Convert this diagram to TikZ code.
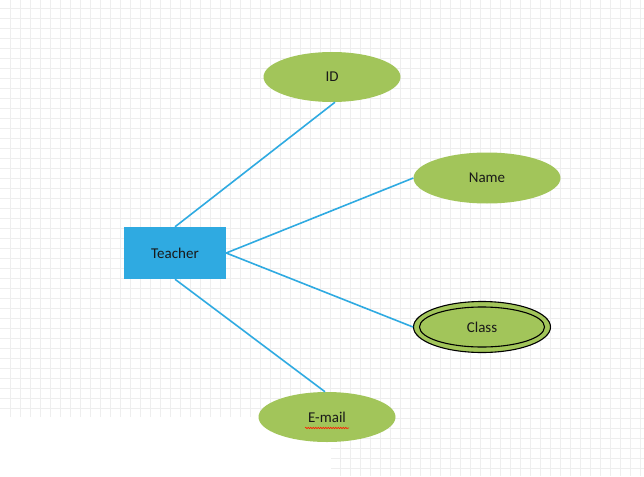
\documentclass[tikz,border=0pt]{standalone}
\usepackage{fontspec}
\setmainfont{Carlito}
\usetikzlibrary{shapes.geometric,decorations.pathmorphing}

\definecolor{entblue}{RGB}{47,170,225}
\definecolor{attrgreen}{RGB}{162,197,90}
\definecolor{gridgray}{RGB}{238,238,238}

\tikzset{
	entity/.style={rectangle, fill=entblue, minimum width=102pt, minimum height=52pt, inner sep=0pt, text=black!90, font=\fontsize{15}{17}\selectfont},
	attr/.style={ellipse, fill=attrgreen, minimum width=137pt, minimum height=50pt, inner sep=0pt, text=black!90, font=\fontsize{15}{17}\selectfont},
	link/.style={entblue, line width=1.6pt},
}

\begin{document}
\begin{tikzpicture}[x=1pt,y=-1pt]
		\useasboundingbox (0,0) rectangle (644,476);
		\fill[white] (0,0) rectangle (644,476);
		
		% grid
		\foreach \x in {10,20,...,640}
			\draw[gridgray, line width=0.6pt] (\x,0) -- (\x,476);
		\foreach \y in {8,18,...,468}
			\draw[gridgray, line width=0.6pt] (0,\y) -- (644,\y);
		\fill[white] (0,417) rectangle (331,476);
		
		\node[entity] (teacher) at (175,253) {Teacher};
		
		\node[attr] (id) at (332,77) {ID};
		\node[attr, minimum width=147pt, minimum height=51pt] (name) at (487,178) {Name};
		\node[attr, draw=black, line width=1.1pt, minimum height=51pt] (class) at (482,327) {Class};
		\draw[black, line width=1.1pt] (class.center) ellipse [x radius=62.5pt, y radius=20pt];
		\node[attr] (email) at (327,417) {E-mail};
		\draw[red!80!orange, line width=0.6pt, decorate, decoration={snake, segment length=2.5pt, amplitude=0.7pt}] ([xshift=-22pt,yshift=-11pt]email.center) -- ([xshift=22pt,yshift=-11pt]email.center);
		
		\draw[link] (teacher.north) -- ([xshift=3pt]id.south);
		\draw[link] (teacher.east) -- (name.west);
		\draw[link] (teacher.east) -- (class.west);
		\draw[link] (teacher.south) -- ([xshift=-2pt]email.north);
	\end{tikzpicture}
\end{document}
